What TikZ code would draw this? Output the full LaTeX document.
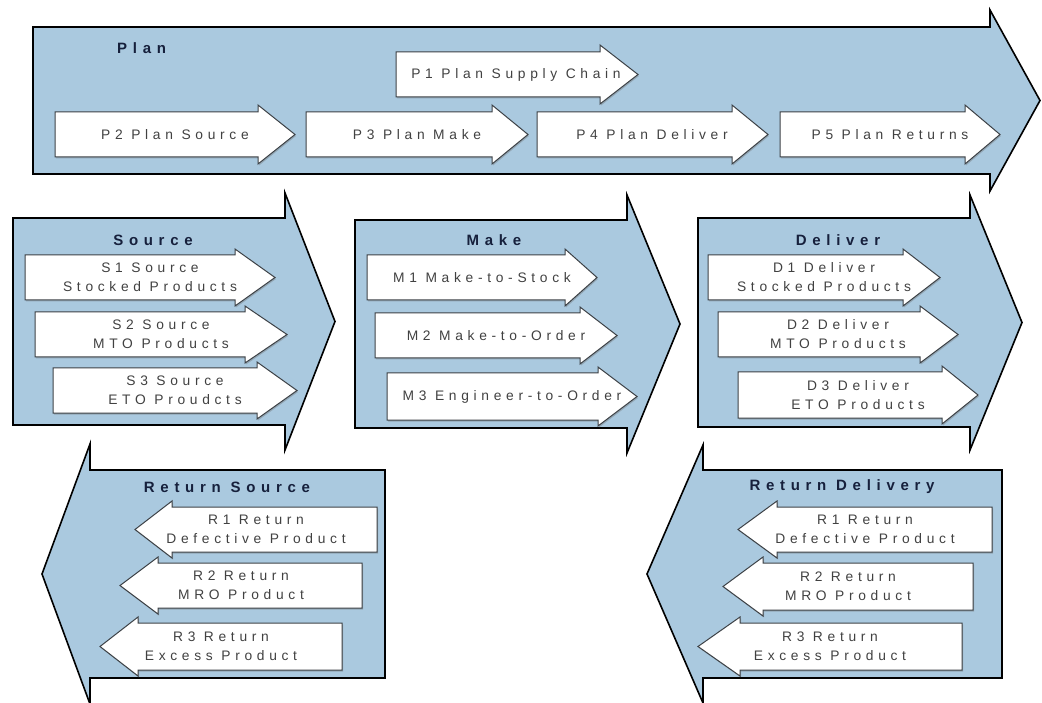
\documentclass[tikz,border=0pt]{standalone}
\usepackage{fontspec}
\setmainfont{Liberation Sans}
\newfontfamily\subfont[LetterSpace=34]{Liberation Sans}
\newfontfamily\titfont[LetterSpace=38]{Liberation Sans}
\usetikzlibrary{shadows}
\definecolor{scorblue}{RGB}{170,201,223}
\definecolor{titlecol}{RGB}{22,32,60}
\definecolor{subtext}{RGB}{65,65,65}
\definecolor{subedge}{RGB}{60,65,70}
\tikzset{
  bigarrow/.style={fill=scorblue, draw=black, line width=1.6pt, line join=miter},
  subarrow/.style={fill=white, draw=subedge, line width=1pt, line join=miter,
    drop shadow={shadow xshift=1pt, shadow yshift=-1.5pt, opacity=0.35, fill=black!60}},
  subtxt/.style={inner sep=0pt, align=center, text=subtext,
    font=\subfont\fontsize{13.8}{19}\selectfont},
  titletxt/.style={inner sep=0pt, text=titlecol,
    font=\titfont\bfseries\fontsize{15}{17}\selectfont}
}
% #1 style, #2 tail x, #3 top y, #4 bottom y, #5 head start x, #6 head overhang, #7 tip x
\newcommand\ArrowShape[7]{%
  \draw[#1] (#2,#3) -- (#5,#3) -- (#5,{#3-#6}) -- (#7,{(#3+#4)/2})
    -- (#5,{#4+#6}) -- (#5,#4) -- (#2,#4) -- cycle;}
\begin{document}
\begin{tikzpicture}[x=1pt,y=-1pt]
\useasboundingbox (0,0) rectangle (1042,703);
% ---------- big arrows ----------
\ArrowShape{bigarrow}{33}{27}{174}{990}{17}{1040}
\ArrowShape{bigarrow}{13}{218}{425}{285}{25}{335}
\ArrowShape{bigarrow}{355}{220}{428}{627}{25}{680}
\ArrowShape{bigarrow}{698}{218}{427}{970}{23}{1022}
\ArrowShape{bigarrow}{385}{470}{678}{90}{26}{42}
\ArrowShape{bigarrow}{1002}{470}{678}{703}{25}{647}
% ---------- titles ----------
\node[titletxt, anchor=west] (plan) at (117,48) {Plan};
\node[titletxt] (source) at (153,240) {Source};
\node[titletxt] (make) at (494,240) {Make};
\node[titletxt] (deliver) at (838,240) {Deliver};
\node[titletxt] (rsource) at (227,487) {Return Source};
\node[titletxt] (rdeliv) at (842,487) {Return Delivery};
% ---------- plan sub arrows ----------
\ArrowShape{subarrow}{396}{52}{97}{600}{7}{638}
\ArrowShape{subarrow}{55}{112}{157}{258}{7}{295}
\ArrowShape{subarrow}{306}{112}{157}{492}{7}{528}
\ArrowShape{subarrow}{537}{112}{157}{732}{7}{768}
\ArrowShape{subarrow}{780}{112}{157}{965}{7}{1000}
\node[subtxt] (p1) at (516,74.5) {P1 Plan Supply Chain};
\node[subtxt] (p2) at (175,134.5) {P2 Plan Source};
\node[subtxt] (p3) at (417,134.5) {P3 Plan Make};
\node[subtxt] (p4) at (652,134.5) {P4 Plan Deliver};
\node[subtxt] (p5) at (890,134.5) {P5 Plan Returns};
% ---------- source ----------
\ArrowShape{subarrow}{25}{255}{300}{235}{6}{275}
\ArrowShape{subarrow}{35}{312}{357}{245}{6}{287}
\ArrowShape{subarrow}{53}{368}{413}{257}{6}{297}
\node[subtxt] (s1) at (150,277.5) {S1 Source\\Stocked Products};
\node[subtxt] (s2) at (161,334.5) {S2 Source\\MTO Products};
\node[subtxt] (s3) at (175,390.5) {S3 Source\\ETO Proudcts};
% ---------- make ----------
\ArrowShape{subarrow}{367}{255}{300}{565}{6}{597}
\ArrowShape{subarrow}{375}{313}{358}{580}{6}{617}
\ArrowShape{subarrow}{387}{373}{420}{598}{6}{637}
\node[subtxt] (m1) at (482,277.5) {M1 Make-to-Stock};
\node[subtxt] (m2) at (496,335.5) {M2 Make-to-Order};
\node[subtxt] (m3) at (512,396.5) {M3 Engineer-to-Order};
% ---------- deliver ----------
\ArrowShape{subarrow}{708}{255}{300}{903}{6}{940}
\ArrowShape{subarrow}{718}{312}{357}{920}{6}{958}
\ArrowShape{subarrow}{738}{372}{418}{942}{6}{978}
\node[subtxt] (d1) at (824,277.5) {D1 Deliver\\Stocked Products};
\node[subtxt] (d2) at (838,334.5) {D2 Deliver\\MTO Products};
\node[subtxt] (d3) at (858,395) {D3 Deliver\\ETO Products};
% ---------- return source ----------
\ArrowShape{subarrow}{377}{507}{552}{172}{6}{135}
\ArrowShape{subarrow}{362}{563}{608}{158}{6}{120}
\ArrowShape{subarrow}{342}{623}{670}{138}{6}{100}
\node[subtxt] (rs1) at (256,529.5) {R1 Return\\Defective Product};
\node[subtxt] (rs2) at (241,585.5) {R2 Return\\MRO Product};
\node[subtxt] (rs3) at (221,646.5) {R3 Return\\Excess Product};
% ---------- return delivery ----------
\ArrowShape{subarrow}{992}{507}{552}{777}{6}{738}
\ArrowShape{subarrow}{973}{563}{610}{763}{6}{723}
\ArrowShape{subarrow}{962}{623}{670}{740}{6}{698}
\node[subtxt] (rd1) at (865,529.5) {R1 Return\\Defective Product};
\node[subtxt] (rd2) at (848,586.5) {R2 Return\\MRO Product};
\node[subtxt] (rd3) at (830,646.5) {R3 Return\\Excess Product};
\end{tikzpicture}
\end{document}
